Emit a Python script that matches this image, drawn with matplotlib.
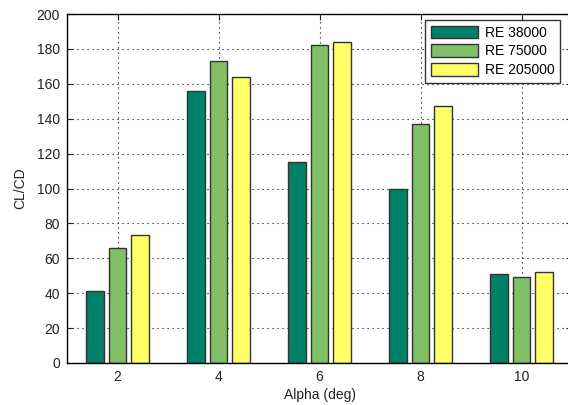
import matplotlib.pyplot as plt
import numpy as np

alpha = [2, 4, 6, 8, 10]
re_38000 = [41, 156, 115, 100, 51]
re_75000 = [66, 173, 182, 137, 49]
re_205000 = [73.5, 164, 184, 147.5, 52]
labels = ["RE 38000", "RE 75000", "RE 205000"]
# matlab "summer" colormap, 3 entries
colors = ["#008066", "#80bf66", "#ffff66"]

plt.rcParams["font.family"] = ["Liberation Sans", "DejaVu Sans"]

fig = plt.figure(figsize=(5.68, 4.05), dpi=100)
ax = fig.add_axes([67 / 568, 42 / 405, 505 / 568, 349 / 405])

x = np.array(alpha, dtype=float)
step = 0.444
width = 0.355
for i, (vals, lab, col) in enumerate(zip([re_38000, re_75000, re_205000], labels, colors)):
    ax.bar(x + (i - 1) * step, vals, width, color=col, edgecolor="#333333",
           linewidth=1.0, label=lab, zorder=2)

ax.set_xlim(1, 11)
ax.set_ylim(0, 200)
ax.set_xticks(alpha)
ax.set_yticks(range(0, 201, 20))
ax.set_axisbelow(True)
ax.grid(True, linestyle=(0, (1, 3.5)), color="black", linewidth=0.8)
ax.tick_params(direction="in", top=True, right=True, length=4, labelsize=10,
               width=0.8, pad=5, colors="#222222")
for s in ax.spines.values():
    s.set_linewidth(1.0)

ax.set_xlabel("Alpha (deg)", fontsize=10, labelpad=3, color="#222222")
ax.set_ylabel("CL/CD", fontsize=10, labelpad=7, color="#222222")

ax.legend(loc="upper left", bbox_to_anchor=(425 / 568, 1 - 20 / 405),
          bbox_transform=fig.transFigure, fontsize=10, fancybox=False,
          framealpha=1, edgecolor="#333333", handlelength=3.4,
          handleheight=1.0, handletextpad=0.5, borderpad=0.4,
          labelspacing=0.35, borderaxespad=0)

fig.savefig("out.png", dpi=100)
